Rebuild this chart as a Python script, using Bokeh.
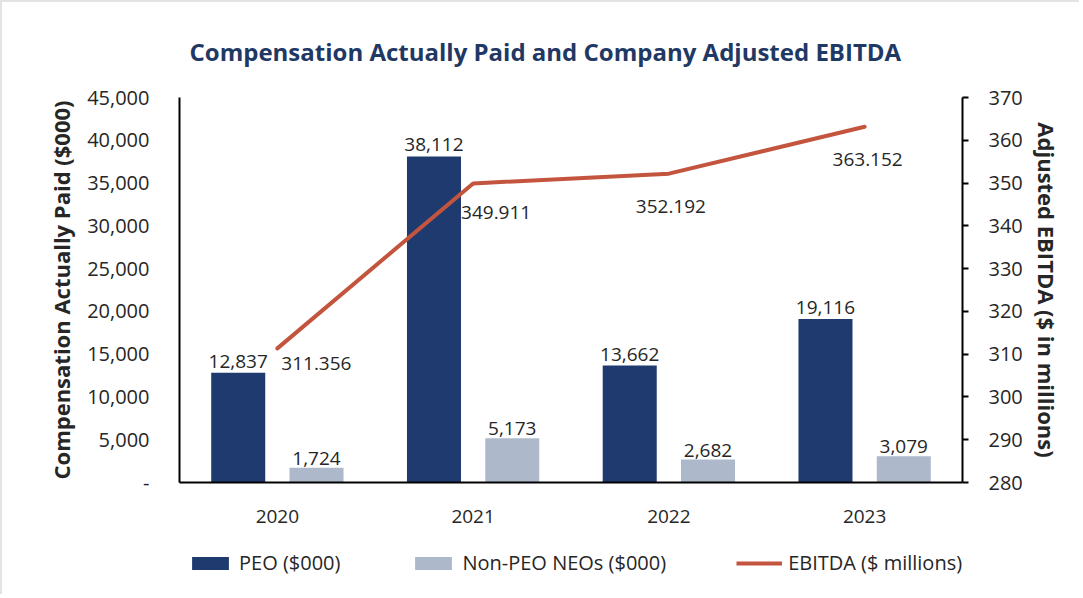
from bokeh.plotting import figure
from bokeh.layouts import column
from bokeh.models import (ColumnDataSource, FactorRange, Range1d, LinearAxis, Legend, LegendItem,
                          FixedTicker, CustomJSTickFormatter, Title)
from bokeh.transform import dodge
from bokeh.core.properties import value
from bokeh.embed import file_html
from bokeh.resources import INLINE

years = ["2020", "2021", "2022", "2023"]
peo = [12837, 38112, 13662, 19116]
non_peo = [1724, 5173, 2682, 3079]
ebitda = [311.356, 349.911, 352.192, 363.152]

left_ticks = [0, 5000, 10000, 15000, 20000, 25000, 30000, 35000, 40000, 45000]
right_ticks = [280, 290, 300, 310, 320, 330, 340, 350, 360, 370]

# label placement (style, screen px)
ebitda_dx = [39, 23, 2, 3]
ebitda_dy = [15, 29, 33, 33]

NAVY = "#1F3A6E"
LIGHT = "#ADB9CB"
RED = "#C3553E"
TXT = "#262626"
FONT = "Open Sans"

src = ColumnDataSource(dict(
    year=years, peo=peo, non_peo=non_peo, ebitda=ebitda,
    peo_lbl=[f"{v:,}" for v in peo],
    non_lbl=[f"{v:,}" for v in non_peo],
    eb_lbl=[f"{v:.3f}" for v in ebitda],
    dx=ebitda_dx, dy=ebitda_dy,
))

p = figure(x_range=FactorRange(*years, range_padding=0), y_range=Range1d(0, 45000),
           width=1077, height=530, output_backend="svg", toolbar_location=None,
           min_border_left=177, min_border_right=117, min_border_top=94, min_border_bottom=50)
p.extra_y_ranges = {"eb": Range1d(280, 370)}
p.outline_line_color = None
p.grid.grid_line_color = None

p.title = Title(text="Compensation Actually Paid and Company Adjusted EBITDA", align="left",
                text_font=FONT, text_font_size="24px", text_font_style="bold",
                text_color="#1F3864", standoff=60, offset=10)

r1 = p.vbar(x=dodge("year", -0.2, range=p.x_range), top="peo", width=0.276, source=src,
            fill_color=NAVY, line_color=None)
r2 = p.vbar(x=dodge("year", 0.2, range=p.x_range), top="non_peo", width=0.276, source=src,
            fill_color=LIGHT, line_color=None)
r3 = p.line(x="year", y="ebitda", source=src, y_range_name="eb", line_color=RED,
            line_width=4, line_cap="round", line_join="round")

p.text(x=dodge("year", -0.2, range=p.x_range), y="peo", text="peo_lbl", source=src,
       text_align="center", text_baseline="bottom", y_offset=-5,
       text_font=value(FONT), text_font_size="19px", text_color=TXT)
p.text(x=dodge("year", 0.2, range=p.x_range), y="non_peo", text="non_lbl", source=src,
       text_align="center", text_baseline="bottom", y_offset=-3,
       text_font=value(FONT), text_font_size="19px", text_color=TXT)
p.text(x="year", y="ebitda", text="eb_lbl", source=src, y_range_name="eb",
       x_offset="dx", y_offset="dy",
       text_align="center", text_baseline="middle",
       text_font=value(FONT), text_font_size="19px", text_color=TXT)

# left axis
ya = p.yaxis[0]
ya.ticker = FixedTicker(ticks=left_ticks)
ya.formatter = CustomJSTickFormatter(code="return tick == 0 ? '-' : tick.toLocaleString('en-US');")
ya.axis_label = "Compensation Actually Paid ($000)"
ya.axis_label_text_font = FONT
ya.axis_label_text_font_size = "22px"
ya.axis_label_text_font_style = "bold"
ya.axis_label_text_color = TXT
ya.axis_label_standoff = 8
ya.major_label_text_font = FONT
ya.major_label_text_font_size = "20px"
ya.major_label_text_color = TXT
ya.major_label_standoff = 24
ya.major_tick_line_color = None
ya.minor_tick_line_color = None
ya.axis_line_color = "black"
ya.axis_line_width = 2

# right axis
ra = LinearAxis(y_range_name="eb", ticker=FixedTicker(ticks=right_ticks))
ra.axis_label = "Adjusted EBITDA ($ in millions)"
ra.axis_label_text_font = FONT
ra.axis_label_text_font_size = "22px"
ra.axis_label_text_font_style = "bold"
ra.axis_label_text_color = TXT
ra.axis_label_standoff = 6
ra.major_label_text_font = FONT
ra.major_label_text_font_size = "20px"
ra.major_label_text_color = TXT
ra.major_label_standoff = 20
ra.major_tick_in = 0
ra.major_tick_out = 6
ra.major_tick_line_width = 2
ra.minor_tick_line_color = None
ra.axis_line_color = "black"
ra.axis_line_width = 2
p.add_layout(ra, "right")

# x axis
xa = p.xaxis[0]
xa.major_label_text_font = FONT
xa.major_label_text_font_size = "19px"
xa.major_label_text_color = TXT
xa.major_label_standoff = 21
xa.major_tick_line_color = None
xa.axis_line_color = "black"
xa.axis_line_width = 2

# legend strip: a second figure whose renderers use the same data but lie outside its view
lf = figure(width=1077, height=62, output_backend="svg", toolbar_location=None,
            x_range=FactorRange(*years), y_range=Range1d(1e6, 2e6), min_border=0)
lf.axis.visible = False
lf.grid.visible = False
lf.outline_line_color = None
k1 = lf.vbar(x="year", top="peo", width=0.276, source=src, fill_color=NAVY, line_color=None)
k2 = lf.vbar(x="year", top="non_peo", width=0.276, source=src, fill_color=LIGHT, line_color=None)
k3 = lf.line(x="year", y="ebitda", source=src, line_color=RED, line_width=4)

lg = Legend(items=[LegendItem(label="PEO ($000)", renderers=[k1]),
                   LegendItem(label="Non-PEO NEOs ($000)", renderers=[k2]),
                   LegendItem(label="EBITDA ($ millions)", renderers=[k3])],
            location=(8, 18), orientation="horizontal", background_fill_alpha=0,
            border_line_color=None, padding=0, margin=0, spacing=70,
            glyph_width=46, glyph_height=16, label_standoff=6,
            label_text_font=FONT, label_text_font_size="20px", label_text_color=TXT)
lf.add_layout(lg, "center")

layout = column(p, lf, spacing=0,
                styles={"border-top": "2px solid #E3E3E3", "border-left": "2px solid #E3E3E3"})

open("out.html", "w").write(file_html(layout, INLINE))
